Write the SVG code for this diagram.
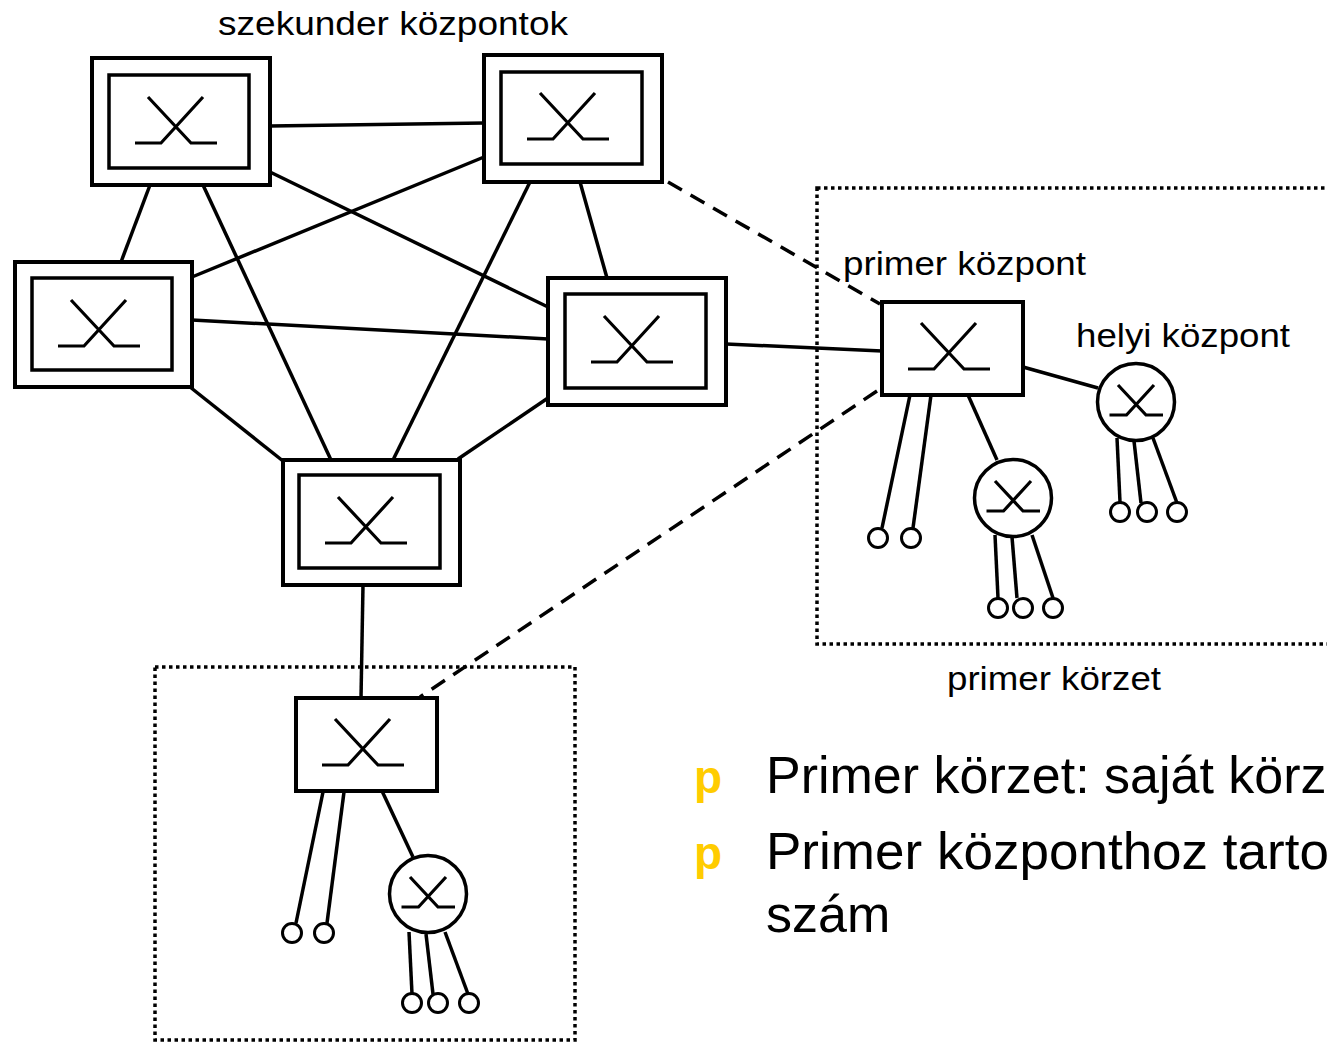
<svg xmlns="http://www.w3.org/2000/svg" xmlns:xlink="http://www.w3.org/1999/xlink" width="1327" height="1043" viewBox="0 0 1327 1043">
<style>
.o{fill:#fff;stroke:#000;stroke-width:4}
.i{fill:none;stroke:#000;stroke-width:3.5}
.sym{fill:none;stroke:#000;stroke-width:3.2}
.c{fill:none;stroke:#000;stroke-width:3.5}
.sub{fill:#fff;stroke:#000;stroke-width:3}
.ln{stroke:#000;stroke-width:3.5;fill:none}
.dash{stroke:#000;stroke-width:3.5;fill:none;stroke-dasharray:16 10}
.dot{stroke:#000;stroke-width:3.5;fill:none;stroke-dasharray:3.5 3.5}
.lbl{font-family:"Liberation Sans",Arial,sans-serif;font-size:34px;fill:#000}
.big{font-family:"Liberation Sans",Arial,sans-serif;font-size:52px;fill:#000}
.bul{font-family:"Liberation Sans",Arial,sans-serif;font-size:46px;font-weight:bold;fill:#FFCC00}
</style>
<defs>
<path id="sw" class="sym" d="M13,0 L56,46 L82,46 M68,0 L26,46 L0,46"/>
<path id="sws" class="sym" d="M-18,-17 L10,13 L27,13 M18,-17 L-9.5,13 L-26.5,13"/>
</defs>
<rect width="1327" height="1043" fill="#fff"/>

<g id="regions">
<rect class="dot" x="817" y="188" width="620" height="456"/>
<rect class="dot" x="155" y="667" width="420" height="373"/>
</g>

<g id="connectors">
<line class="ln" x1="270" y1="126" x2="484" y2="123"/>
<line class="ln" x1="150" y1="185" x2="121" y2="262"/>
<line class="ln" x1="203" y1="185" x2="331" y2="460"/>
<line class="ln" x1="270" y1="172" x2="548" y2="307"/>
<line class="ln" x1="484" y1="157" x2="192" y2="277"/>
<line class="ln" x1="530" y1="182" x2="393" y2="460"/>
<line class="ln" x1="580" y1="182" x2="607" y2="278"/>
<line class="ln" x1="192" y1="320" x2="548" y2="339"/>
<line class="ln" x1="190" y1="387" x2="283" y2="461"/>
<line class="ln" x1="548" y1="398" x2="458" y2="459"/>
<line class="ln" x1="726" y1="344" x2="882" y2="351"/>
<line class="ln" x1="363" y1="585" x2="361" y2="698"/>
<line class="ln" x1="1023" y1="367" x2="1098" y2="388"/>
<line class="ln" x1="968" y1="395" x2="997" y2="460"/>
<line class="ln" x1="382" y1="791" x2="413" y2="857"/>
<line class="dash" x1="668" y1="182" x2="880" y2="304"/>
<line class="dash" x1="877" y1="391" x2="420" y2="697"/>
<line class="ln" x1="910" y1="395" x2="882" y2="528"/>
<line class="ln" x1="931" y1="395" x2="913" y2="528"/>
<line class="ln" x1="1117" y1="438" x2="1120" y2="502"/>
<line class="ln" x1="1134" y1="441" x2="1141" y2="503"/>
<line class="ln" x1="1153" y1="438" x2="1177" y2="503"/>
<line class="ln" x1="995" y1="535" x2="998" y2="598"/>
<line class="ln" x1="1012" y1="537" x2="1017" y2="598"/>
<line class="ln" x1="1032" y1="535" x2="1053" y2="598"/>
<line class="ln" x1="323" y1="792" x2="296" y2="923"/>
<line class="ln" x1="344" y1="792" x2="327" y2="923"/>
<line class="ln" x1="409" y1="932" x2="412" y2="994"/>
<line class="ln" x1="426" y1="934" x2="433" y2="994"/>
<line class="ln" x1="445" y1="932" x2="468" y2="994"/>
</g>

<g id="node-a">
<rect class="o" x="92" y="58" width="178" height="127"/>
<rect class="i" x="109" y="75" width="140" height="93"/>
<use xlink:href="#sw" x="135" y="97"/>
</g>
<g id="node-b">
<rect class="o" x="484" y="55" width="178" height="127"/>
<rect class="i" x="501" y="72" width="141" height="92"/>
<use xlink:href="#sw" x="527" y="93"/>
</g>
<g id="node-c">
<rect class="o" x="15" y="262" width="177" height="125"/>
<rect class="i" x="32" y="278" width="140" height="92"/>
<use xlink:href="#sw" x="58" y="300"/>
</g>
<g id="node-d">
<rect class="o" x="548" y="278" width="178" height="127"/>
<rect class="i" x="565" y="294" width="141" height="94"/>
<use xlink:href="#sw" x="591" y="316"/>
</g>
<g id="node-e">
<rect class="o" x="283" y="460" width="177" height="125"/>
<rect class="i" x="299" y="475" width="141" height="93"/>
<use xlink:href="#sw" x="325" y="497"/>
</g>

<g id="primer-right">
<rect class="o" x="882" y="302" width="141" height="93"/>
<use xlink:href="#sw" x="908" y="323"/>
</g>
<g id="helyi-right">
<circle class="c" cx="1136" cy="402" r="38.5" fill="#fff"/>
<use xlink:href="#sws" x="1136" y="402"/>
</g>
<g id="local-mid">
<circle class="c" cx="1013" cy="498" r="38.5" fill="#fff"/>
<use xlink:href="#sws" x="1013" y="498"/>
</g>
<g id="primer-bottom">
<rect class="o" x="296" y="698" width="141" height="93"/>
<use xlink:href="#sw" x="322" y="719"/>
</g>
<g id="local-bottom">
<circle class="c" cx="428" cy="894" r="38.5" fill="#fff"/>
<use xlink:href="#sws" x="428" y="894"/>
</g>

<g id="subscribers">
<circle class="sub" cx="878" cy="538" r="9.5"/>
<circle class="sub" cx="911" cy="538" r="9.5"/>
<circle class="sub" cx="1120" cy="512" r="9.5"/>
<circle class="sub" cx="1147" cy="512" r="9.5"/>
<circle class="sub" cx="1177" cy="512" r="9.5"/>
<circle class="sub" cx="998" cy="608" r="9.5"/>
<circle class="sub" cx="1023" cy="608" r="9.5"/>
<circle class="sub" cx="1053" cy="608" r="9.5"/>
<circle class="sub" cx="292" cy="933" r="9.5"/>
<circle class="sub" cx="324" cy="933" r="9.5"/>
<circle class="sub" cx="412" cy="1003" r="9.5"/>
<circle class="sub" cx="438" cy="1003" r="9.5"/>
<circle class="sub" cx="469" cy="1003" r="9.5"/>
</g>

<g id="labels">
<text class="lbl" x="218" y="35" textLength="350" lengthAdjust="spacingAndGlyphs">szekunder központok</text>
<text class="lbl" x="843" y="275" textLength="243" lengthAdjust="spacingAndGlyphs">primer központ</text>
<text class="lbl" x="1076" y="347" textLength="214" lengthAdjust="spacingAndGlyphs">helyi központ</text>
<text class="lbl" x="947" y="690" textLength="214" lengthAdjust="spacingAndGlyphs">primer körzet</text>
</g>

<g id="bullets">
<text class="bul" x="694" y="793">p</text>
<text class="big" x="766" y="793">Primer körzet: saját körz</text>
<text class="bul" x="694" y="869">p</text>
<text class="big" x="766" y="869" textLength="563" lengthAdjust="spacingAndGlyphs">Primer központhoz tarto</text>
<text class="big" x="766" y="932">szám</text>
</g>
</svg>
